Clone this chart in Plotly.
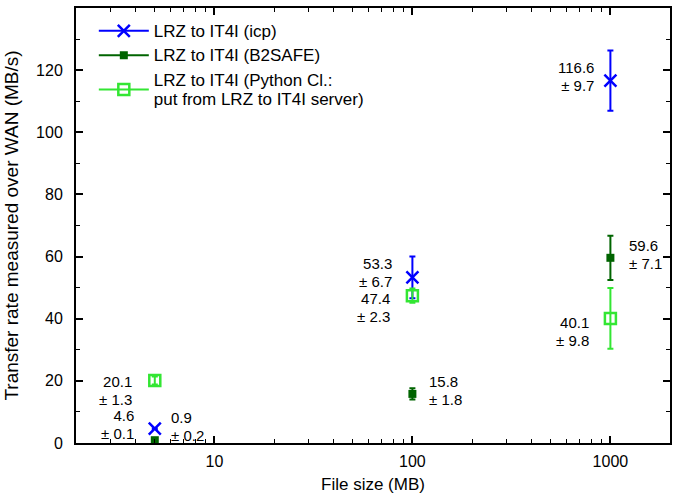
import math
import plotly.graph_objects as go

# ---- data ----
file_sizes = [5, 100, 1000]
icp_vals = [4.6, 53.3, 116.6]
icp_errs = [0.1, 6.7, 9.7]
b2safe_vals = [0.9, 15.8, 59.6]
b2safe_errs = [0.2, 1.8, 7.1]
python_vals = [20.1, 47.4, 40.1]
python_errs = [1.3, 2.3, 9.8]
series_names = [["LRZ to IT4I (icp)"], ["LRZ to IT4I (B2SAFE)"],
                ["LRZ to IT4I (Python Cl.:", "put from LRZ to IT4I server)"]]
x_tick_vals = [10, 100, 1000]
y_tick_vals = [0, 20, 40, 60, 80, 100, 120, 140]

# ---- styles ----
FONT = "Liberation Sans, Arial, Helvetica, sans-serif"
styles = [
    dict(color="#0000ff", symbol="x-thin-open", size=12, lw=2.5),
    dict(color="#006400", symbol="square", size=8, lw=0),
    dict(color="#33e633", symbol="square-open", size=11, lw=2.5),
]
# label offsets per series per point: (anchor, xshift, center yshift)
label_pos = [
    [("right", -19, 4), ("right", -18, 5), ("right", -14, 4)],
    [("left", 14, 14), ("left", 15, 3), ("left", 17, 3)],
    [("right", -21, -10), ("right", -20, -12), ("right", -19, -13)],
]


def big(s, px):
    return f'<span style="font-size:{px}px">{s}</span>'


fig = go.Figure()
all_vals = [icp_vals, b2safe_vals, python_vals]
all_errs = [icp_errs, b2safe_errs, python_errs]

for i, (vals, errs) in enumerate(zip(all_vals, all_errs)):
    st = styles[i]
    grp = f"g{i}"
    fig.add_trace(go.Scatter(
        x=file_sizes, y=vals, mode="markers", showlegend=False,
        legendgroup=grp,
        marker=dict(color=st["color"], symbol=st["symbol"], size=st["size"],
                    line=dict(color=st["color"], width=st["lw"])),
        error_y=dict(type="data", array=errs, color=st["color"],
                     thickness=2, width=3),
    ))
    # legend entry
    fig.add_trace(go.Scatter(
        x=[None], y=[None], mode="lines+markers",
        name="<br>".join(big(s, 17) for s in series_names[i]),
        legendgroup=grp,
        line=dict(color=st["color"], width=2),
        marker=dict(color=st["color"], symbol=st["symbol"], size=st["size"],
                    line=dict(color=st["color"], width=st["lw"])),
    ))
    for j, (xv, v, e) in enumerate(zip(file_sizes, vals, errs)):
        anc, xs, ys = label_pos[i][j]
        fig.add_annotation(
            x=math.log10(xv), y=v, xref="x", yref="y",
            text=big(f"{v}", 15) + "<br>" + big(f"± {e}", 15),
            showarrow=False, xanchor=anc, yanchor="middle", xshift=xs,
            yshift=ys, align="right" if anc == "right" else "left",
            font=dict(family=FONT, size=13.5, color="black"),
        )

minor_x = [m * d for d in (1, 10, 100) for m in range(2, 10)] + [2000]

fig.update_layout(
    width=674, height=497,
    margin=dict(l=76, r=2, t=8, b=54),
    paper_bgcolor="white", plot_bgcolor="white",
    font=dict(family=FONT, size=16, color="black"),
    showlegend=True,
    legend=dict(x=0.03, y=0.985, xanchor="left", yanchor="top",
                bgcolor="rgba(0,0,0,0)", font=dict(family=FONT, size=15),
                tracegroupgap=2, itemwidth=50),
    xaxis=dict(
        type="log", range=[math.log10(2), math.log10(2000)],
        tickmode="array", tickvals=x_tick_vals,
        ticktext=[str(v) for v in x_tick_vals],
        ticks="inside", ticklen=7, tickwidth=1.5, tickcolor="black",
        ticklabelstandoff=3,
        minor=dict(tickmode="array", tickvals=minor_x, ticks="inside",
                   ticklen=4, tickwidth=1, tickcolor="black"),
        showline=True, linecolor="black", linewidth=2, mirror="ticks",
        showgrid=False, zeroline=False,
        title=dict(text="File size (MB)", standoff=9,
                   font=dict(family=FONT, size=17)),
        tickfont=dict(family=FONT, size=16),
    ),
    yaxis=dict(
        range=[0, 140], tickmode="array", tickvals=y_tick_vals,
        ticks="inside", ticklen=7, tickwidth=1.5, tickcolor="black",
        ticklabelstandoff=8,
        minor=dict(dtick=10, ticks="inside", ticklen=4, tickwidth=1,
                   tickcolor="black"),
        showline=True, linecolor="black", linewidth=2, mirror="ticks",
        showgrid=False, zeroline=False,
        title=dict(text="Transfer rate measured over WAN (MB/s)", standoff=12,
                   font=dict(family=FONT, size=19)),
        tickfont=dict(family=FONT, size=16),
    ),
)

fig.write_html("out.html")
